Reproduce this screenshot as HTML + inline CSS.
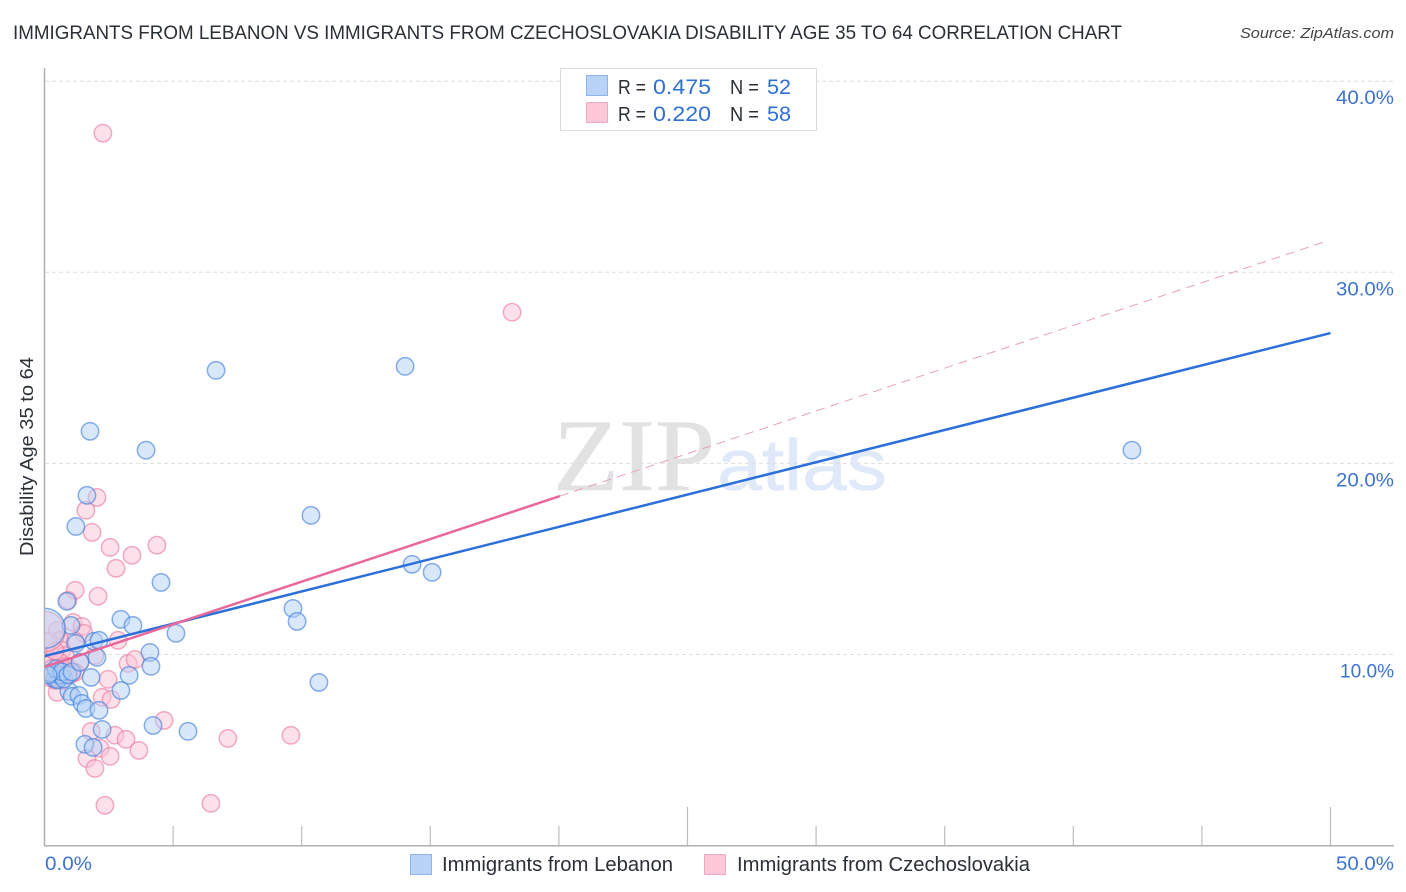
<!DOCTYPE html>
<html lang="en">
<head>
<meta charset="utf-8">
<title>Immigrants from Lebanon vs Immigrants from Czechoslovakia Disability Age 35 to 64 Correlation Chart</title>
<style>
html,body{margin:0;padding:0;background:#fff;width:1406px;height:892px;overflow:hidden}
svg{display:block;font-family:"Liberation Sans",sans-serif}
</style>
</head>
<body>
<svg id="chart" xmlns="http://www.w3.org/2000/svg" width="1406" height="892" viewBox="0 0 1406 892">
  <defs>
    <clipPath id="plot-clip"><rect x="45" y="60" width="1349" height="785"/></clipPath>
  </defs>
  <text x="13" y="39" font-size="19.5" fill="#2b2f36" textLength="1109" lengthAdjust="spacingAndGlyphs">IMMIGRANTS FROM LEBANON VS IMMIGRANTS FROM CZECHOSLOVAKIA DISABILITY AGE 35 TO 64 CORRELATION CHART</text>
  <text x="1394" y="38" font-size="15" font-style="italic" fill="#444" text-anchor="end" textLength="154" lengthAdjust="spacingAndGlyphs">Source: ZipAtlas.com</text>

  <g>
    <text x="553" y="490" font-family="Liberation Serif" font-size="103" fill="#e2e2e2" stroke="#e2e2e2" stroke-width="0.6" textLength="162" lengthAdjust="spacingAndGlyphs">ZIP</text>
    <text x="717" y="490" font-size="72" fill="#dfe9f9" stroke="#dfe9f9" stroke-width="0.6" textLength="170" lengthAdjust="spacingAndGlyphs">atlas</text>
  </g>

  <g id="grid"></g>
  <g id="axes"></g>
  <g id="pink-points" clip-path="url(#plot-clip)"></g>
  <g id="blue-points" clip-path="url(#plot-clip)"></g>
  <g id="lines" clip-path="url(#plot-clip)"></g>
  <g id="y-labels"></g>
  <g id="x-labels"></g>

  <text transform="translate(33,456.5) rotate(-90)" font-size="18.5" fill="#2b2f36" text-anchor="middle" textLength="199" lengthAdjust="spacingAndGlyphs">Disability Age 35 to 64</text>

  <g>
    <rect x="560.5" y="68.5" width="256" height="62" fill="#fff" stroke="#dcdcdc"/>
    <rect x="586.5" y="75.5" width="21" height="20" fill="#b9d3f8" stroke="#8db4ec"/>
    <rect x="586.5" y="102.5" width="21" height="20" fill="#fdc8d8" stroke="#f3a9c0"/>
    <text x="618" y="94" font-size="20" fill="#2b2f36" textLength="28" lengthAdjust="spacingAndGlyphs">R =</text>
    <text x="653" y="94" font-size="21.5" fill="#2f6fd6" textLength="58" lengthAdjust="spacingAndGlyphs">0.475</text>
    <text x="730" y="94" font-size="20" fill="#2b2f36" textLength="29" lengthAdjust="spacingAndGlyphs">N =</text>
    <text x="767" y="94" font-size="21.5" fill="#2f6fd6" textLength="24" lengthAdjust="spacingAndGlyphs">52</text>
    <text x="618" y="121" font-size="20" fill="#2b2f36" textLength="28" lengthAdjust="spacingAndGlyphs">R =</text>
    <text x="653" y="121" font-size="21.5" fill="#2f6fd6" textLength="58" lengthAdjust="spacingAndGlyphs">0.220</text>
    <text x="730" y="121" font-size="20" fill="#2b2f36" textLength="29" lengthAdjust="spacingAndGlyphs">N =</text>
    <text x="767" y="121" font-size="21.5" fill="#2f6fd6" textLength="24" lengthAdjust="spacingAndGlyphs">58</text>
  </g>

  <g>
    <rect x="410.5" y="854.5" width="21" height="20" fill="#b9d3f8" stroke="#8db4ec"/>
    <text x="442" y="871" font-size="20" fill="#2b2f36" textLength="231" lengthAdjust="spacingAndGlyphs">Immigrants from Lebanon</text>
    <rect x="704.5" y="854.5" width="21" height="20" fill="#fdc8d8" stroke="#f3a9c0"/>
    <text x="737" y="871" font-size="20" fill="#2b2f36" textLength="293" lengthAdjust="spacingAndGlyphs">Immigrants from Czechoslovakia</text>
  </g>
</svg>
<script>
const yTicks = [10, 20, 30, 40];
const yTickLabels = ["10.0%", "20.0%", "30.0%", "40.0%"];
const xTicks = [0, 5, 10, 15, 20, 25, 30, 35, 40, 45, 50];
const xMajorTicks = [25, 50];
const xTickLabels = ["0.0%", "50.0%"];
const xTickLabelValues = [0, 50];

const blueX = [6.67,14.02,42.28,1.77,3.95,1.65,1.22,10.36,4.53,14.29,15.07,0.87,2.97,3.44,5.11,9.66,9.82,1.92,2.12,2.04,4.10,4.14,3.29,1.81,10.67,2.97,0.95,1.07,1.34,1.46,1.61,2.12,2.24,4.22,5.58,1.57,1.89,1.03,1.22,0.29,0.41,0.52,0.60,0.76,0.21,0.45,0.68,0.91,1.07,1.38,0.14,0.02];
const blueY = [24.87,25.08,20.69,21.68,20.69,18.33,16.70,17.28,13.77,14.72,14.30,12.78,11.84,11.52,11.11,12.41,11.73,10.69,10.74,9.85,10.11,9.38,8.91,8.80,8.54,8.12,8.07,7.81,7.86,7.44,7.18,7.08,6.08,6.29,5.98,5.30,5.14,11.52,10.58,8.93,8.72,8.67,8.93,8.72,9.04,9.25,9.09,8.93,9.09,9.60,8.93,11.37];
const blueBig = [false,false,false,false,false,false,false,false,false,false,false,false,false,false,false,false,false,false,false,false,false,false,false,false,false,false,false,false,false,false,false,false,false,false,false,false,false,false,false,false,false,false,false,false,false,false,false,false,false,false,false,true];

const pinkX = [2.27,18.18,2.04,1.61,1.85,2.55,3.40,4.37,2.78,1.19,2.08,0.91,1.11,1.46,1.53,0.49,0.60,2.86,1.19,0.68,0.80,1.96,3.25,3.52,1.38,2.47,0.21,0.49,2.24,2.59,1.81,2.74,3.17,3.67,4.65,2.16,2.55,1.65,1.96,7.13,9.58,2.35,6.47,0.14,0.29,0.60,0.99,0.41,0.68,1.19,0.14,0.41,0.30,0.85,1.05,0.55,0.22,0.02];
const pinkY = [37.28,27.91,18.22,17.55,16.39,15.60,15.19,15.72,14.51,13.36,13.05,12.83,11.68,11.47,11.11,11.26,10.74,10.74,10.69,10.22,9.95,9.95,9.53,9.74,9.59,8.70,9.69,8.02,7.76,7.65,5.98,5.78,5.56,4.98,6.55,5.09,4.67,4.56,4.04,5.61,5.77,2.11,2.21,9.43,9.27,9.59,9.17,8.65,8.65,9.06,10.68,10.18,8.98,9.38,8.98,9.18,8.78,11.20];
const pinkBig = [false,false,false,false,false,false,false,false,false,false,false,false,false,false,false,false,false,false,false,false,false,false,false,false,false,false,false,false,false,false,false,false,false,false,false,false,false,false,false,false,false,false,false,false,false,false,false,false,false,false,false,false,false,false,false,false,false,true];

const blueLineX = [0, 50];
const blueLineY = [9.92, 26.82];
const pinkLineX = [0, 20.04];
const pinkLineY = [9.35, 18.29];
const pinkDashX = [20.04, 49.87];
const pinkDashY = [18.29, 31.64];

const NS = "http://www.w3.org/2000/svg";
function xScale(v) { return 44.5 + v * 25.72; }
function yScale(v) { return 845.6 - v * 19.11; }
function make(tag, attrs, parent) {
  const el = document.createElementNS(NS, tag);
  for (const k in attrs) el.setAttribute(k, attrs[k]);
  parent.appendChild(el);
  return el;
}

const grid = document.getElementById("grid");
yTicks.forEach(function (t) {
  const ln = make("line", {x1: 45, x2: 1394, y1: yScale(t), y2: yScale(t), stroke: "#dedede", "stroke-width": 1, "stroke-dasharray": "4 3"}, grid);
  
  
});

const axes = document.getElementById("axes");
const yAxisLine = make("line", {x1: 44.5, x2: 44.5, y1: 68, y2: 846, stroke: "#b0b0b0", "stroke-width": 1.5}, axes);


const xAxisLine = make("line", {x1: 44, x2: 1394, y1: 845.7, y2: 845.7, stroke: "#b0b0b0", "stroke-width": 1.5}, axes);


xTicks.forEach(function (t) {
  if (t === 0) return;
  const top = xMajorTicks.indexOf(t) >= 0 ? 807 : 826;
  const tk = make("line", {x1: xScale(t), x2: xScale(t), y1: top, y2: 845, stroke: "#bdbdbd", "stroke-width": 1.2}, axes);
  
  
});

function drawPoints(groupId, xs, ys, fill, stroke, name, big) {
  const g = document.getElementById(groupId);
  xs.forEach(function (x, i) {
    const r = big[i] ? 20 : 8.7;
    const c = make("circle", {cx: xScale(x), cy: yScale(ys[i]), r: r, fill: fill, "fill-opacity": 0.5, stroke: stroke, "stroke-opacity": 0.62, "stroke-width": 1.5}, g);
    
    
  });
}
drawPoints("pink-points", pinkX, pinkY, "#fbc4d5", "#ea7ba0", "czechoslovakia-point", pinkBig);
drawPoints("blue-points", blueX, blueY, "#b4cff6", "#3f80dc", "lebanon-point", blueBig);

const lines = document.getElementById("lines");
const blueLine = make("line", {x1: xScale(blueLineX[0]), y1: yScale(blueLineY[0]), x2: xScale(blueLineX[1]), y2: yScale(blueLineY[1]), stroke: "#2a6fdb", "stroke-width": 2.5}, lines);


const pinkLine = make("line", {x1: xScale(pinkLineX[0]), y1: yScale(pinkLineY[0]), x2: xScale(pinkLineX[1]), y2: yScale(pinkLineY[1]), stroke: "#e8689a", "stroke-width": 2.5}, lines);


const pinkDash = make("line", {x1: xScale(pinkDashX[0]), y1: yScale(pinkDashY[0]), x2: xScale(pinkDashX[1]), y2: yScale(pinkDashY[1]), stroke: "#e8a0b8", "stroke-width": 1, "stroke-dasharray": "9 6"}, lines);



const yLabels = document.getElementById("y-labels");
yTicks.forEach(function (t, i) {
  const lb = make("text", {x: 1394, y: yScale(t) + 23, "font-size": 19.5, fill: "#3d72cf", "text-anchor": "end", textLength: yTickLabels[i].charAt(0) === "1" ? 54 : 58, lengthAdjust: "spacingAndGlyphs"}, yLabels);
  lb.textContent = yTickLabels[i];
  
  
});

const xLabels = document.getElementById("x-labels");
xTickLabelValues.forEach(function (t, i) {
  const isLast = i === xTickLabelValues.length - 1;
  const lb = make("text", {x: isLast ? 1394 : 45, y: 870, "font-size": 19.5, fill: "#3d72cf", "text-anchor": isLast ? "end" : "start", textLength: isLast ? 58 : 47, lengthAdjust: "spacingAndGlyphs"}, xLabels);
  lb.textContent = xTickLabels[i];
  
  
});
</script>
</body>
</html>
